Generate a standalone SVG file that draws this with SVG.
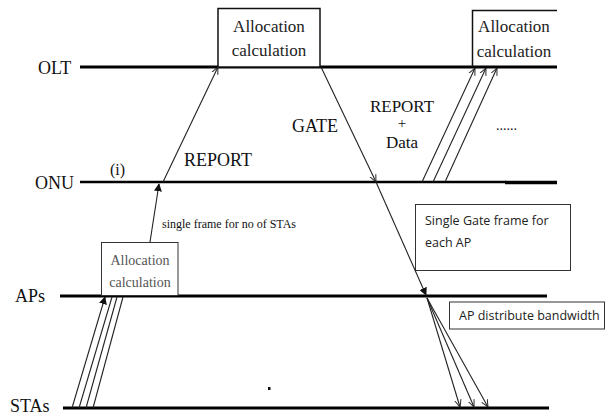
<svg xmlns="http://www.w3.org/2000/svg" width="606" height="416" viewBox="0 0 606 416">
<style>
.axis{stroke:#000;stroke-width:3;fill:none}
.lbl{font-family:'Liberation Serif','Times New Roman','DejaVu Serif',serif;font-size:18px;fill:#111}
.box{fill:#fff;stroke:#111;stroke-width:1.5}
.btxt{font-family:'Liberation Serif','Times New Roman','DejaVu Serif',serif;font-size:17px;fill:#222;text-anchor:middle}
.c{stroke:#222;stroke-width:1.1;fill:none}
.sans{font-family:'Open Sans','Noto Sans',sans-serif;font-size:12.5px;fill:#222}
</style>
<defs>
<marker id="ah" viewBox="0 0 10 10" refX="9" refY="5" markerWidth="8" markerHeight="8" orient="auto" markerUnits="userSpaceOnUse">
<path d="M0,1 L9,5 L0,9" fill="none" stroke="#222" stroke-width="1.2"/>
</marker>
<marker id="ahf" viewBox="0 0 10 10" refX="9" refY="5" markerWidth="8" markerHeight="8" orient="auto" markerUnits="userSpaceOnUse">
<path d="M0,0 L10,5 L0,10 z" fill="#111"/>
</marker>
</defs>
<g id="lanes">
<text class="lbl" x="38" y="74">OLT</text>
<line class="axis" x1="80" y1="67" x2="557" y2="67"/>
<text class="lbl" x="35" y="189">ONU</text>
<line class="axis" x1="80" y1="182" x2="506" y2="182" style="stroke-width:2.5"/>
<line class="axis" x1="505" y1="182.5" x2="557" y2="182.5" style="stroke-width:3.5"/>
<text class="lbl" x="15" y="302">APs</text>
<line class="axis" x1="60" y1="296" x2="547" y2="296"/>
<text class="lbl" x="10" y="412">STAs</text>
<line class="axis" x1="63" y1="408" x2="549" y2="408"/>
</g>
<g id="olt-alloc1">
<rect class="box" x="218" y="8.5" width="102" height="58.5"/>
<text class="btxt" x="269" y="32">Allocation</text>
<text class="btxt" x="269" y="56">calculation</text>
</g>
<g id="olt-alloc2">
<path d="M472.5,67 V10.5 H557" fill="none" stroke="#111" stroke-width="1.5"/>
<text class="btxt" x="514" y="32">Allocation</text>
<text class="btxt" x="514" y="57">calculation</text>
</g>
<g id="ap-alloc">
<rect x="101.5" y="242.5" width="76.5" height="53" fill="#fff" stroke="#333" stroke-width="1"/>
<text class="btxt" x="140" y="265" style="font-size:14px;fill:#555">Allocation</text>
<text class="btxt" x="140" y="287" style="font-size:14px;fill:#555">calculation</text>
</g>
<g id="gate-note">
<rect x="415.5" y="204.5" width="155" height="66" fill="#fff" stroke="#333" stroke-width="1"/>
<text class="sans" x="425" y="225">Single Gate frame for</text>
<text class="sans" x="425" y="247">each AP</text>
</g>
<g id="ap-note">
<rect x="449.5" y="302" width="155" height="27" fill="#fff" stroke="#333" stroke-width="1"/>
<text class="sans" x="459" y="320">AP distribute bandwidth</text>
</g>
<g id="labels">
<text class="lbl" x="110" y="175" style="font-size:16px">(i)</text>
<text class="lbl" x="184" y="166">REPORT</text>
<text class="lbl" x="292" y="132">GATE</text>
<text class="lbl" x="402" y="112" text-anchor="middle" style="font-size:17px">REPORT</text>
<text class="lbl" x="402" y="128" text-anchor="middle" style="font-size:15px">+</text>
<text class="lbl" x="402" y="148" text-anchor="middle" style="font-size:17px">Data</text>
<text class="lbl" x="496" y="130" style="font-size:14px">......</text>
<text class="lbl" x="162" y="228" style="font-size:12px">single frame for no of STAs</text>
<rect x="268" y="387" width="2.5" height="3" fill="#111"/>
</g>
<g id="connectors">
<line class="c" x1="163" y1="182" x2="218" y2="67" marker-end="url(#ah)"/>
<line class="c" x1="150" y1="242" x2="159" y2="184" marker-end="url(#ahf)"/>
<line class="c" x1="321" y1="67" x2="376" y2="182" marker-end="url(#ah)"/>
<line class="c" x1="376" y1="182" x2="426" y2="295" marker-end="url(#ahf)"/>
<line class="c" x1="422" y1="182" x2="475" y2="68" marker-end="url(#ah)"/>
<line class="c" x1="433" y1="182" x2="486" y2="68" marker-end="url(#ah)"/>
<line class="c" x1="445" y1="182" x2="497" y2="68" marker-end="url(#ah)"/>
<line class="c" x1="72" y1="408" x2="105" y2="297" marker-end="url(#ahf)"/>
<line class="c" x1="79" y1="408" x2="112" y2="297"/>
<line class="c" x1="86" y1="408" x2="117" y2="297"/>
<line class="c" x1="93" y1="408" x2="123" y2="297"/>
<line class="c" x1="427" y1="298" x2="460" y2="407" marker-end="url(#ah)"/>
<line class="c" x1="427" y1="298" x2="474" y2="407" marker-end="url(#ah)"/>
<line class="c" x1="427" y1="298" x2="488" y2="407" marker-end="url(#ah)"/>
</g>
</svg>
